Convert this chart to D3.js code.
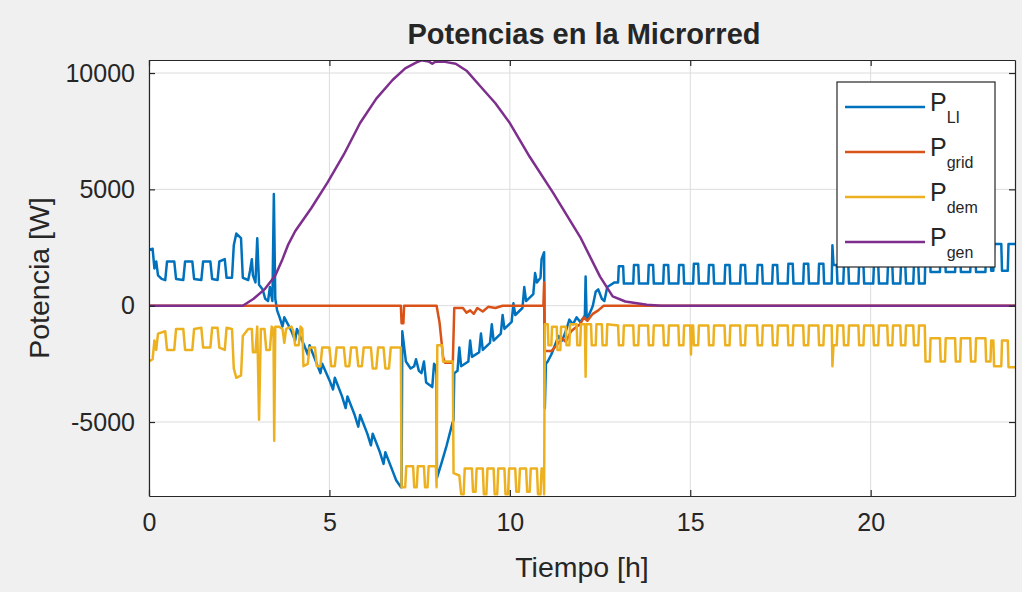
<!DOCTYPE html>
<html>
<head>
<meta charset="utf-8">
<script src="https://cdn.jsdelivr.net/npm/d3@7"></script>
<style>
  body { margin: 0; background: #f0f0f0; }
  text { font-family: "Liberation Sans", Arial, Helvetica, sans-serif; fill: #262626; }
</style>
</head>
<body>
<div id="chart"></div>
<script>
// ---- data ----
var xTicks = [0, 5, 10, 15, 20];
var yTicks = [-5000, 0, 5000, 10000];
var legendSubs = ["LI", "grid", "dem", "gen"];
var lineColors = ["#0072BD", "#D95319", "#EDB120", "#7E2F8E"];

// [hour, W]
var pLI = [
  [0,2400],[0.1,2450],[0.15,1600],[0.2,1900],[0.25,1300],[0.35,1150],[0.45,1100],[0.5,1900],[0.7,1900],[0.75,1150],
  [0.95,1100],[1,1900],[1.2,1900],[1.25,1150],[1.45,1100],[1.5,1900],[1.7,1900],[1.75,1150],[1.9,1100],[1.95,1900],
  [2.1,2000],[2.15,1200],[2.3,1200],[2.35,2600],[2.42,3100],[2.55,2900],[2.6,1200],[2.75,1100],[2.8,1500],[2.85,2000],
  [2.88,1300],[2.95,1000],[3,2900],[3.05,900],[3.15,700],[3.22,300],[3.3,200],[3.35,800],[3.42,200],[3.46,4800],
  [3.5,300],[3.55,-200],[3.62,-500],
  [3.7,-900],[3.75,-500],[3.95,-1100],[4.05,-1500],[4.1,-1000],[4.3,-1700],[4.4,-2100],[4.45,-1700],[4.65,-2500],
  [4.75,-2900],[4.8,-2500],[5,-3200],[5.1,-3600],[5.15,-3100],[5.35,-3900],[5.45,-4400],[5.5,-3900],[5.7,-4700],
  [5.8,-5200],[5.85,-4700],[6.05,-5500],[6.15,-6000],[6.2,-5500],[6.4,-6300],[6.5,-6800],[6.55,-6300],[6.75,-7100],
  [6.85,-7500],[6.98,-7800],
  [7.0,-7800],[7.02,-1100],[7.12,-2400],[7.25,-2700],[7.35,-2600],[7.4,-2300],[7.48,-2800],[7.55,-2900],[7.62,-2400],
  [7.68,-3300],[7.85,-3500],[7.9,-2500],[7.95,-2600],[7.97,-3000],[7.98,-7400],
  [8.1,-6800],[8.25,-6000],[8.4,-5100],[8.44,-4900],[8.46,-2900],
  [8.55,-2800],[8.6,-1800],[8.65,-2600],[8.85,-2400],[8.9,-1500],[8.95,-2200],[9.15,-2000],[9.2,-1200],[9.25,-1900],
  [9.45,-1600],[9.5,-800],[9.55,-1500],[9.75,-1200],[9.8,-400],[9.85,-1000],[10.05,-700],[10.1,100],[10.15,-400],
  [10.35,-100],[10.4,800],[10.45,200],[10.65,500],[10.7,1400],[10.75,1000],[10.85,1200],[10.88,2000],[10.95,2300],
  [10.97,-4400],
  [11,-2500],[11.05,-2400],[11.15,-2100],[11.25,-1700],[11.35,-1300],[11.45,-1500],[11.55,-1100],[11.65,-600],
  [11.75,-800],[11.85,-500],[11.95,-700],[12.05,-500],[12.08,-400],[12.1,1250],[12.13,-600],[12.25,-200],[12.3,0],
  [12.38,600],[12.45,700],[12.55,300],[12.62,200],[12.7,800],[12.8,900],[12.9,1000],[12.95,1000],
  [13,1000],[13.02,1700],[13.14,1700],[13.16,950],
  [13.42,950],[13.44,1750],[13.56,1750],[13.58,950],
  [13.83,950],[13.85,1750],[13.97,1750],[13.99,950],
  [14.25,950],[14.27,1750],[14.39,1750],[14.41,950],
  [14.67,950],[14.69,1750],[14.81,1750],[14.83,950],
  [15.08,950],[15.1,1800],[15.22,1800],[15.24,950],
  [15.5,950],[15.52,1750],[15.64,1750],[15.66,950],
  [15.95,950],[15.97,1750],[16.09,1750],[16.11,950],
  [16.38,950],[16.4,1750],[16.52,1750],[16.54,950],
  [16.85,950],[16.87,1750],[16.99,1750],[17.01,950],
  [17.27,950],[17.29,1750],[17.41,1750],[17.43,950],
  [17.7,950],[17.72,1800],[17.84,1800],[17.86,950],
  [18.13,950],[18.15,1800],[18.27,1800],[18.29,950],
  [18.55,950],[18.57,1800],[18.69,1800],[18.71,950],
  [18.92,950],[18.94,2600],[18.97,1750],[19.06,1750],[19.08,950],
  [19.24,950],[19.26,1750],[19.38,1750],[19.4,950],
  [19.66,950],[19.68,1750],[19.8,1750],[19.82,950],
  [20.07,950],[20.09,1750],[20.21,1750],[20.23,950],
  [20.46,950],[20.48,1750],[20.6,1750],[20.62,950],
  [20.82,950],[20.84,1750],[20.96,1750],[20.98,950],
  [21.18,950],[21.2,1750],[21.32,1750],[21.34,950],
  [21.5,950],[21.52,2450],[21.64,2450],[21.66,1450],
  [21.92,1450],[21.94,2450],[22.06,2450],[22.08,1450],
  [22.34,1450],[22.36,2450],[22.48,2450],[22.5,1450],
  [22.76,1450],[22.78,2450],[22.9,2450],[22.92,1450],
  [23.18,1450],[23.2,2450],[23.32,2450],[23.34,1500],
  [23.4,1500],[23.42,2650],[23.62,2650],[23.64,1500],
  [23.8,1500],[23.82,2650],[24,2650]
];

var pGrid = [
  [0,0],[6.98,0],[7.0,-750],[7.05,-750],[7.07,0],[7.97,0],[8.05,-700],[8.15,-2200],[8.2,-2450],[8.42,-2450],
  [8.46,-100],[8.7,-100],[8.8,-300],[8.9,-200],[9,-350],[9.1,-100],[9.25,-250],[9.4,-50],[9.6,-100],[9.8,0],
  [10.93,0],[10.95,1000],[10.97,-1950],[11.15,-1950],[11.3,-1700],[11.45,-1400],[11.55,-1550],[11.7,-1100],
  [11.85,-900],[11.95,-800],[12.05,-500],[12.15,-650],[12.3,-350],[12.45,-200],[12.6,0],[24,0]
];

var pDem = [
  [0,-2400],[0.1,-2300],[0.15,-1500],[0.2,-1900],[0.25,-1200],[0.45,-1100],[0.5,-1900],[0.7,-1900],[0.75,-1000],
  [0.95,-1000],[1,-1900],[1.2,-1900],[1.25,-1000],[1.45,-950],[1.5,-1800],[1.7,-1800],[1.75,-950],[1.9,-950],
  [1.95,-1800],[2.1,-1900],[2.15,-950],[2.3,-1000],[2.35,-2700],[2.42,-3100],[2.55,-3000],[2.6,-1300],[2.75,-1000],
  [2.85,-1000],[2.88,-2000],[2.95,-2000],[3,-900],[3.05,-4900],[3.1,-1000],[3.2,-1000],[3.25,-1900],[3.35,-1900],
  [3.4,-900],[3.45,-1000],[3.47,-5800],[3.5,-900],[3.6,-900],
  [3.7,-1000],[3.75,-1600],[3.8,-1000],[3.95,-900],[4,-1100],[4.05,-1700],[4.15,-1700],[4.2,-900],[4.25,-1000],
  [4.28,-2600],[4.4,-2500],[4.45,-1800],[4.6,-1800],[4.65,-2600],[4.75,-2600],[4.8,-1800],[5,-1800],[5.05,-2600],
  [5.15,-2600],[5.2,-1800],[5.4,-1800],[5.45,-2600],[5.55,-2600],[5.6,-1800],[5.75,-1800],[5.8,-2600],[5.9,-2600],
  [5.95,-1800],[6.15,-1800],[6.2,-2700],[6.3,-2700],[6.35,-1800],[6.5,-1800],[6.55,-2700],[6.65,-2700],[6.7,-1800],
  [6.98,-1800],
  [7,-7800],[7.1,-7800],[7.13,-6900],[7.32,-6900],[7.35,-7800],[7.42,-7800],[7.45,-6900],[7.62,-6900],[7.65,-7800],
  [7.72,-7800],[7.75,-6900],[7.95,-6900],[7.97,-7800],[7.99,-1700],
  [8.12,-1700],[8.15,-2400],[8.42,-2400],[8.44,-7200],
  [8.6,-7300],[8.65,-8100],[8.72,-8100],[8.75,-7000],[8.95,-7000],[8.98,-8000],[9.05,-8000],[9.08,-7000],[9.25,-7000],
  [9.28,-8100],[9.35,-8100],[9.38,-7000],[9.55,-7000],[9.58,-8100],[9.65,-8100],[9.68,-7000],[9.85,-7000],[9.88,-8100],
  [9.95,-8100],[9.98,-7000],[10.15,-7000],[10.18,-8000],[10.25,-8000],[10.28,-7000],[10.45,-7000],[10.48,-8000],
  [10.55,-8000],[10.58,-7000],[10.75,-7000],[10.78,-8100],[10.85,-8100],[10.88,-7000],[10.93,-7000],[10.95,-8100],
  [10.97,-800],
  [11.05,-800],[11.07,-1700],[11.15,-1700],[11.17,-900],[11.3,-900],[11.32,-1900],[11.4,-1900],[11.42,-900],
  [11.55,-900],[11.57,-1700],[11.65,-1700],[11.67,-800],[11.85,-800],[11.87,-1700],[11.95,-1700],[11.97,-800],
  [12.08,-800],[12.1,-3050],[12.12,-800],[12.25,-800],[12.27,-1700],[12.38,-1700],[12.4,-800],[12.55,-800],
  [12.57,-1700],[12.68,-1700],[12.7,-800],
  [13,-850],[13.02,-1700],[13.14,-1700],[13.16,-850],
  [13.42,-850],[13.44,-1700],[13.56,-1700],[13.58,-850],
  [13.83,-850],[13.85,-1700],[13.97,-1700],[13.99,-850],
  [14.25,-850],[14.27,-1700],[14.39,-1700],[14.41,-850],
  [14.67,-850],[14.69,-1700],[14.81,-1700],[14.83,-850],
  [15,-850],[15.02,-2100],[15.04,-850],
  [15.08,-850],[15.1,-1700],[15.22,-1700],[15.24,-850],
  [15.5,-850],[15.52,-1700],[15.64,-1700],[15.66,-850],
  [15.95,-850],[15.97,-1700],[16.09,-1700],[16.11,-850],
  [16.38,-850],[16.4,-1700],[16.52,-1700],[16.54,-850],
  [16.85,-850],[16.87,-1700],[16.99,-1700],[17.01,-850],
  [17.27,-850],[17.29,-1700],[17.41,-1700],[17.43,-850],
  [17.7,-850],[17.72,-1700],[17.84,-1700],[17.86,-850],
  [18.13,-850],[18.15,-1700],[18.27,-1700],[18.29,-850],
  [18.55,-850],[18.57,-1700],[18.69,-1700],[18.71,-850],
  [18.92,-850],[18.94,-2600],[18.97,-1700],[19.06,-1700],[19.08,-850],
  [19.24,-850],[19.26,-1700],[19.38,-1700],[19.4,-850],
  [19.66,-850],[19.68,-1700],[19.8,-1700],[19.82,-850],
  [20.07,-850],[20.09,-1700],[20.21,-1700],[20.23,-850],
  [20.46,-850],[20.48,-1700],[20.6,-1700],[20.62,-850],
  [20.82,-850],[20.84,-1700],[20.96,-1700],[20.98,-850],
  [21.18,-850],[21.2,-1700],[21.32,-1700],[21.34,-850],
  [21.5,-850],[21.52,-2400],[21.64,-2400],[21.66,-1400],
  [21.92,-1400],[21.94,-2400],[22.06,-2400],[22.08,-1400],
  [22.34,-1400],[22.36,-2400],[22.48,-2400],[22.5,-1400],
  [22.76,-1400],[22.78,-2400],[22.9,-2400],[22.92,-1400],
  [23.18,-1400],[23.2,-2400],[23.32,-2400],[23.34,-1500],
  [23.4,-1500],[23.42,-2600],[23.62,-2600],[23.64,-1500],
  [23.8,-1500],[23.82,-2650],[24,-2650]
];

var pGen = [
  [0,0],[2.6,0],[2.9,300],[3.2,700],[3.5,1300],[3.7,2000],[3.85,2600],[4.05,3200],[4.5,4200],[4.95,5300],
  [5.4,6500],[5.85,7850],[6.3,8900],[6.75,9700],[7.1,10200],[7.4,10450],[7.55,10550],[7.75,10500],[7.85,10400],
  [7.95,10500],[8.2,10480],[8.5,10400],[8.8,10100],[9.2,9400],[9.6,8700],[10,7850],[10.55,6400],[11.2,4850],
  [11.95,2950],[12.5,1250],[12.85,400],[13.2,180],[13.8,40],[14.2,0],[24,0]
];

var series = [pLI, pGrid, pDem, pGen];

// ---- layout ----
var W = 1022, H = 592;
var margin = {top: 60, right: 7, bottom: 96, left: 149},
    width = W - margin.left - margin.right,
    height = H - margin.top - margin.bottom;

var svg = d3.select("#chart").append("svg")
    .attr("width", W).attr("height", H)
    .style("display", "block");

svg.append("rect").attr("width", W).attr("height", H).attr("fill", "#f0f0f0");

var g = svg.append("g")
    .attr("transform", "translate(" + margin.left + "," + margin.top + ")");

var x = d3.scaleLinear().domain([0, 24]).range([0, width]);
var y = d3.scaleLinear().domain([-8180, 10560]).range([height, 0]);

g.append("rect").attr("width", width).attr("height", height).attr("fill", "#ffffff");

// grid
g.append("g").selectAll("line").data(xTicks).join("line")
    .attr("x1", d => x(d)).attr("x2", d => x(d))
    .attr("y1", 0).attr("y2", height)
    .attr("stroke", "#dcdcdc").attr("stroke-width", 1);
g.append("g").selectAll("line").data(yTicks).join("line")
    .attr("y1", d => y(d)).attr("y2", d => y(d))
    .attr("x1", 0).attr("x2", width)
    .attr("stroke", "#dcdcdc").attr("stroke-width", 1);

// lines
var clip = g.append("clipPath").attr("id", "clip");
clip.append("rect").attr("width", width).attr("height", height);

var line = d3.line()
    .x(function(d) { return x(d[0]); })
    .y(function(d) { return y(d[1]); });

g.append("g").attr("clip-path", "url(#clip)")
  .selectAll("path").data(series).join("path")
    .attr("fill", "none")
    .attr("stroke", (d, i) => lineColors[i])
    .attr("stroke-width", 2.5)
    .attr("stroke-linejoin", "round")
    .attr("d", line);

// axes (ticks inside, box on)
function styleAxis(sel, labels) {
  sel.select(".domain").attr("stroke", "#262626").attr("stroke-width", 1.2);
  sel.selectAll(".tick line").attr("stroke", "#262626").attr("stroke-width", 1.2);
  sel.selectAll(".tick text").attr("font-size", 25).attr("fill", "#262626")
     .attr("font-family", "Liberation Sans, Arial, sans-serif");
  if (!labels) sel.selectAll(".tick text").remove();
}

g.append("g").attr("transform", "translate(0," + height + ")")
  .call(d3.axisBottom(x).tickValues(xTicks).tickSizeInner(-6).tickSizeOuter(0).tickPadding(17))
  .call(s => styleAxis(s, true));
g.append("g")
  .call(d3.axisTop(x).tickValues(xTicks).tickSizeInner(-6).tickSizeOuter(0))
  .call(s => styleAxis(s, false));
g.append("g")
  .call(d3.axisLeft(y).tickValues(yTicks).tickFormat(d => String(d)).tickSizeInner(-6).tickSizeOuter(0).tickPadding(14))
  .call(s => styleAxis(s, true));
g.append("g").attr("transform", "translate(" + width + ",0)")
  .call(d3.axisRight(y).tickValues(yTicks).tickSizeInner(-6).tickSizeOuter(0))
  .call(s => styleAxis(s, false));

// labels
svg.append("text")
    .attr("x", margin.left + width / 2 + 2).attr("y", 44)
    .attr("text-anchor", "middle")
    .attr("font-size", 29).attr("font-weight", "bold")
    .attr("fill", "#000")
    .text("Potencias en la Microrred");

svg.append("text")
    .attr("x", margin.left + width / 2).attr("y", 577)
    .attr("text-anchor", "middle")
    .attr("font-size", 28.5)
    .text("Tiempo [h]");

svg.append("text")
    .attr("transform", "translate(49," + (margin.top + height / 2) + ") rotate(-90)")
    .attr("text-anchor", "middle")
    .attr("font-size", 28.5)
    .text("Potencia [W]");

// legend
var leg = svg.append("g").attr("transform", "translate(837,82)");
leg.append("rect")
    .attr("width", 158).attr("height", 185)
    .attr("fill", "#ffffff").attr("stroke", "#262626").attr("stroke-width", 1.2);

var rowY = d3.scalePoint().domain(legendSubs).range([25, 160]);

var rows = leg.selectAll("g.row").data(legendSubs).join("g")
    .attr("class", "row")
    .attr("transform", d => "translate(0," + rowY(d) + ")");

rows.append("line")
    .attr("x1", 8).attr("x2", 88)
    .attr("stroke", (d, i) => lineColors[i]).attr("stroke-width", 2.5);

var lt = rows.append("text").attr("x", 93).attr("y", 4).attr("font-size", 25);
lt.append("tspan").text("P");
lt.append("tspan").attr("dy", 12).attr("font-size", 16).text(d => d);
</script>
</body>
</html>
